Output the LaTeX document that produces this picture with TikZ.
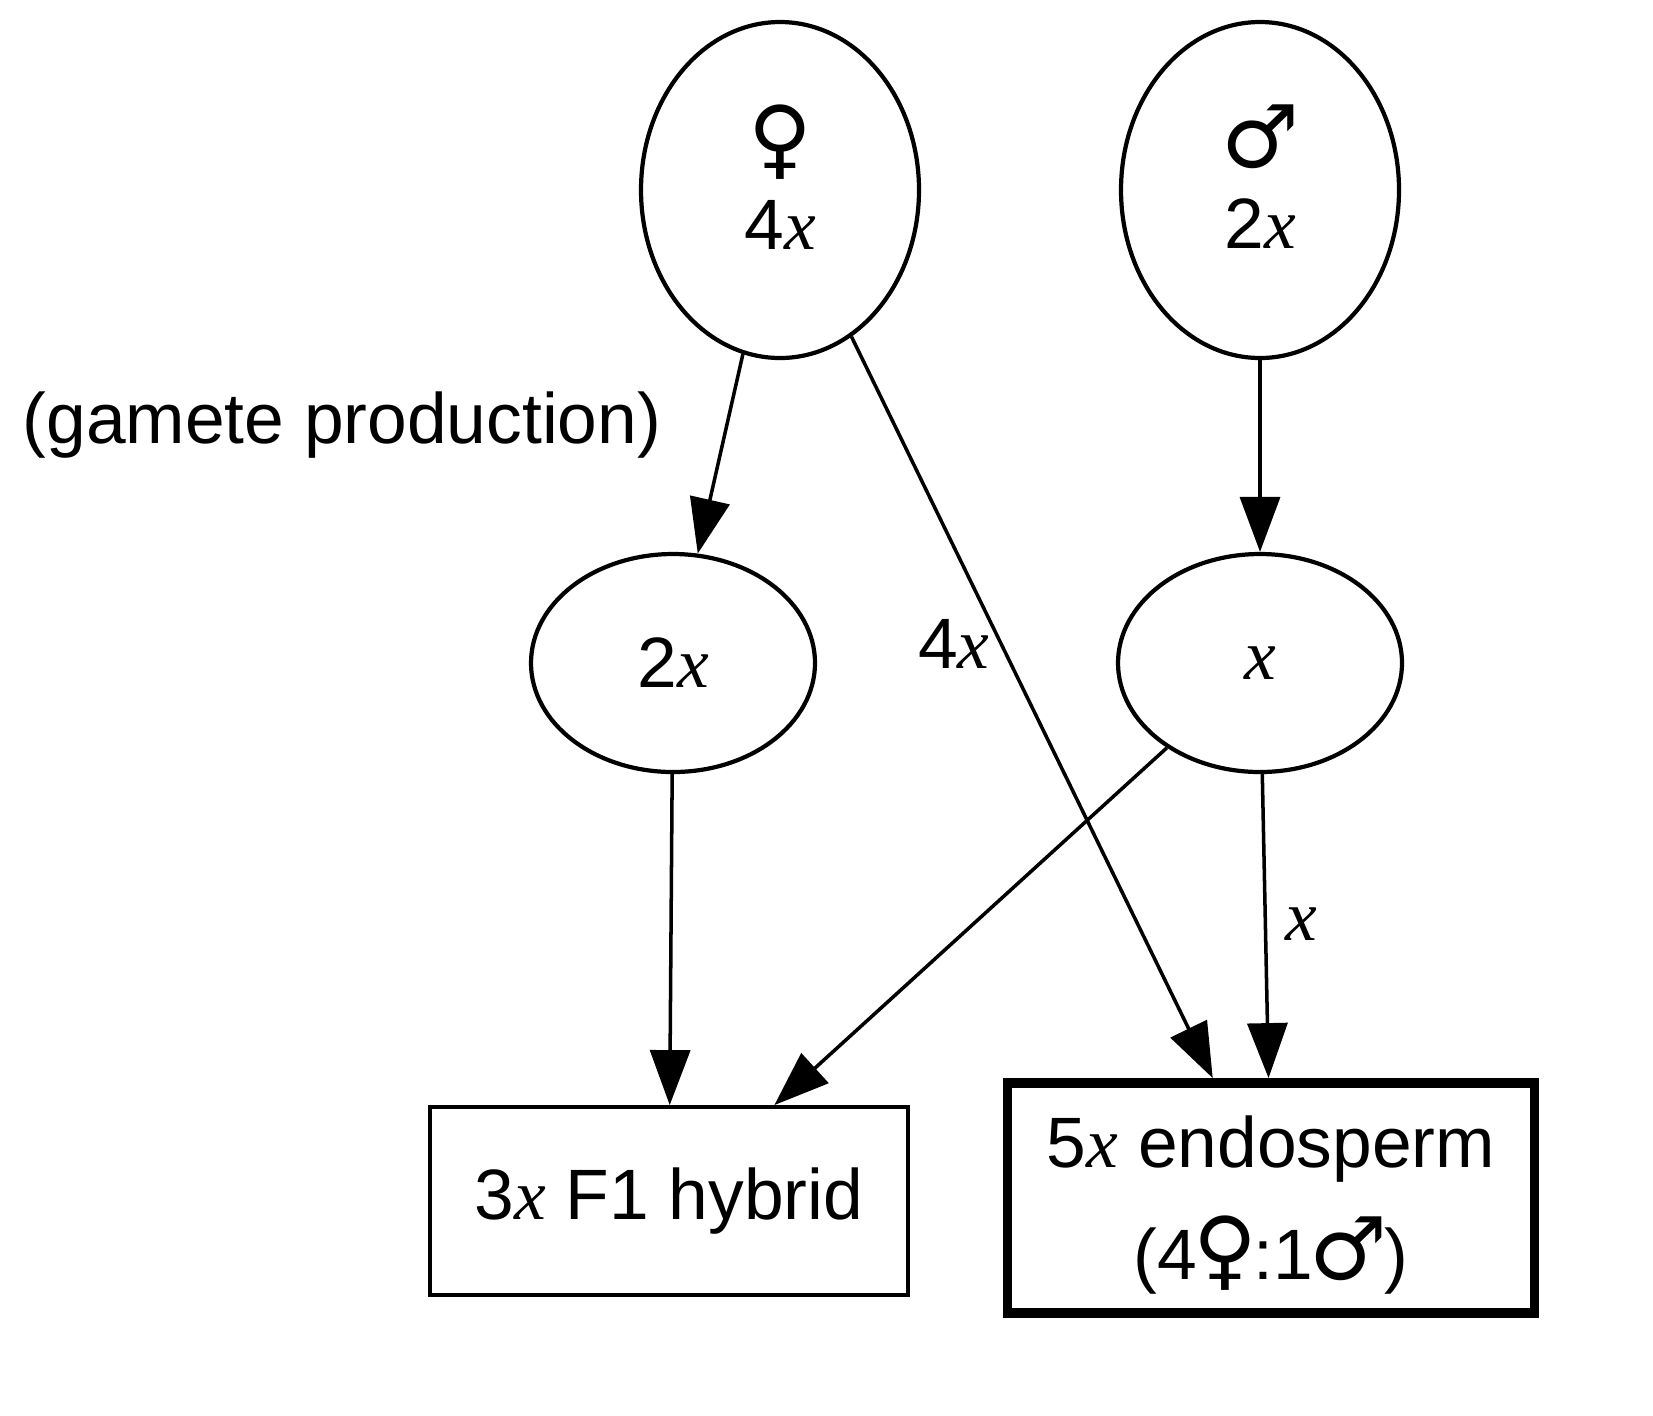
\documentclass[tikz,border=0pt]{standalone}
\usepackage{fontspec}
\setmainfont{Liberation Sans}
\newfontfamily\serifx{Liberation Serif}
\newfontfamily\sexsym[Scale=1.22]{DejaVu Sans}
\usetikzlibrary{shapes.geometric, arrows.meta, positioning}
\newcommand{\vx}{{\serifx\itshape x}}
\newcommand{\fem}{{\sexsym\kern-0.04em ♀\kern-0.04em}}
\newcommand{\mal}{{\sexsym\kern-0.04em ♂\kern-0.04em}}
\newcommand{\lift}{\rule[-0.26cm]{0pt}{0pt}}

\begin{document}
\begin{tikzpicture}[x=0.1mm, y=-0.1mm, >={Triangle[length=5.5mm, width=4mm]},
    every node/.style={font=\fontsize{20.3}{23}\selectfont},
    parent/.style={ellipse, draw, line width=1.2pt, minimum width=2.78cm, minimum height=3.36cm, inner sep=0pt, align=center},
    gamete/.style={ellipse, draw, line width=1.2pt, minimum width=2.84cm, minimum height=2.18cm, inner sep=0pt},
    offspring/.style={rectangle, draw, line width=1.1pt, inner sep=0pt, align=center},
    lbl/.style={inner sep=1mm}]
    \useasboundingbox (0,0) rectangle (1653,1415);

    \node[parent] (mom) at (780,190) {\fem\\4\vx\lift};
    \node[parent] (dad) at (1260,190) {\mal\\2\vx\lift};
    \node[gamete] (egg) at (673,663) {2\vx};
    \node[gamete] (pollen) at (1260,663) {\vx};
    \node[offspring, minimum width=4.78cm, minimum height=1.88cm] (hybrid) at (669,1201) {3\vx{} F1 hybrid};
    \node[offspring, line width=2.8pt, minimum width=5.27cm, minimum height=2.30cm] (endo) at (1271,1198) {\rule{0pt}{0.66cm}5\vx{} endosperm\\[9pt](4\fem:1\mal)};
    \node (note) at (342,425) {(gamete production)};

    \path[->, line width=1pt]
    (mom) edge (egg)
    (mom) edge node[pos=0.415, anchor=east, lbl] {4\vx} (endo)
    (dad) edge (pollen)
    (egg) edge (hybrid)
    (pollen) edge (hybrid)
    (pollen) edge node[pos=0.495, anchor=west, lbl, inner sep=1.8mm] {\vx} (endo);

\end{tikzpicture}
\end{document}
